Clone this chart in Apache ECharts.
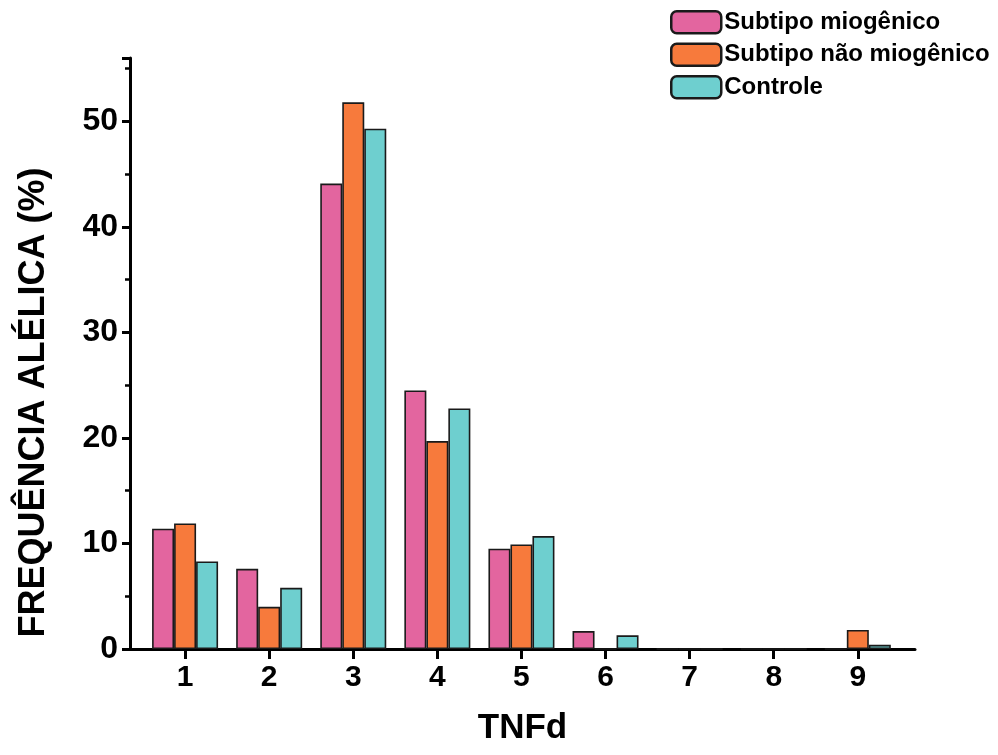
<!DOCTYPE html>
<html>
<head>
<meta charset="utf-8">
<script src="https://cdn.jsdelivr.net/npm/echarts@6/dist/echarts.min.js"></script>
<style>html,body{margin:0;padding:0;background:#fff}#c{width:998px;height:755px}</style>
</head>
<body>
<div id="c"></div>
<script>
const categories = [1, 2, 3, 4, 5, 6, 7, 8, 9];
const seriesNames = ['Subtipo miogênico', 'Subtipo não miogênico', 'Controle'];
const miogenico = [11.4, 7.6, 44.1, 24.5, 9.5, 1.7, 0, 0, 0];
const naoMiogenico = [11.9, 4.0, 51.8, 19.7, 9.9, 0, 0, 0, 1.8];
const controle = [8.3, 5.8, 49.3, 22.8, 10.7, 1.3, 0, 0, 0.4];
const yTicks = [0, 10, 20, 30, 40, 50];
const colors = ['#e3659f', '#f77a3c', '#6ecfcf'];

const chart = echarts.init(document.getElementById('c'), null, {renderer: 'canvas'});
const mk = (name, vals, color) => ({
  name: name,
  type: 'bar',
  barWidth: 22,
  barGap: '0%',
  data: categories.map((c, i) => [c, vals[i]]),
  itemStyle: {color: color, borderColor: '#1a1a1a', borderWidth: 1.6},
  emphasis: {disabled: true}
});
chart.setOption({
  animation: false,
  backgroundColor: '#ffffff',
  textStyle: {fontFamily: 'Liberation Sans, Arial, sans-serif'},
  legend: {
    orient: 'vertical',
    left: 665,
    top: 5,
    itemWidth: 50,
    itemHeight: 22,
    itemGap: 8,
    icon: 'roundRect',
    textStyle: {fontSize: 24, fontWeight: 'bold', color: '#000', fontFamily: 'Liberation Sans, Arial, sans-serif', padding: [0, 0, 0, -2]},
    itemStyle: {borderColor: '#1a1a1a', borderWidth: 2.5},
    data: seriesNames
  },
  grid: {left: 130, right: 83, top: 58, bottom: 106, containLabel: false},
  xAxis: {
    type: 'value',
    min: 0.345,
    max: 9.68,
    name: 'TNFd',
    nameLocation: 'middle',
    nameGap: 62,
    nameTextStyle: {fontSize: 35, fontWeight: 'bold', color: '#000'},
    axisLine: {show: true, onZero: false, lineStyle: {color: '#000', width: 3}},
    axisTick: {show: true, customValues: categories, length: 10, lineStyle: {color: '#000', width: 3}},
    axisLabel: {customValues: categories, fontSize: 30, fontWeight: 'bold', color: '#000', margin: 14},
    splitLine: {show: false}
  },
  yAxis: {
    type: 'value',
    min: 0,
    max: 56,
    interval: 10,
    name: 'FREQUÊNCIA ALÉLICA (%)',
    nameLocation: 'middle',
    nameRotate: 90,
    nameGap: 78,
    nameTextStyle: {fontSize: 36, fontWeight: 'bold', color: '#000', padding: [0, 98, 0, 0]},
    axisLine: {show: true, lineStyle: {color: '#000', width: 3}},
    axisTick: {show: true, length: 8, lineStyle: {color: '#000', width: 3}},
    minorTick: {show: true, splitNumber: 2, length: 5, lineStyle: {color: '#000', width: 2.5}},
    axisLabel: {fontSize: 32, fontWeight: 'bold', color: '#000', margin: 12,
      formatter: v => yTicks.indexOf(v) >= 0 ? String(v) : ''},
    splitLine: {show: false}
  },
  series: [
    mk(seriesNames[0], miogenico, colors[0]),
    mk(seriesNames[1], naoMiogenico, colors[1]),
    mk(seriesNames[2], controle, colors[2])
  ]
});
</script>
</body>
</html>
